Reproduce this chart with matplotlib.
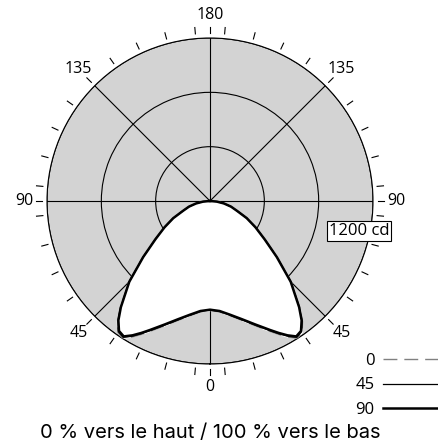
import numpy as np
import matplotlib
matplotlib.use("Agg")
import matplotlib.pyplot as plt

plt.rcParams['font.family'] = ['Open Sans', 'DejaVu Sans']

# Data: luminous intensity (cd) vs angle from nadir (deg), half curve (symmetric)
angles = [0, 5, 10, 15, 20, 25, 27.5, 30, 32.5, 35, 37.5, 40, 45, 50, 55, 60, 65, 70, 75, 80, 85, 90]
c0 =  [805, 820, 858, 910, 978, 1062, 1110, 1158, 1198, 1182, 1120, 1030, 845, 648, 496, 390, 302, 215, 162, 106, 52, 0]
c45 = [802, 816, 854, 905, 972, 1055, 1102, 1150, 1190, 1175, 1114, 1025, 842, 644, 492, 388, 300, 213, 161, 105, 51, 0]
c90 = [800, 813, 850, 900, 966, 1048, 1095, 1142, 1182, 1168, 1108, 1021, 840, 642, 490, 386, 298, 211, 160, 104, 50, 0]
series_labels = ['0', '45', '90']
rings = [400, 800, 1200]
rmax = 1200
angle_labels = [0, 45, 90, 135, 180]
unit_label = '1200 cd'
caption = '0 % vers le haut / 100 % vers le bas'

W, H = 438, 444
fig = plt.figure(figsize=(W / 100, H / 100), dpi=100)
cx, cy, R = 210, 201, 163
ax = fig.add_axes([(cx - R) / W, (H - cy - R) / H, 2 * R / W, 2 * R / H], projection='polar')
ax.set_theta_zero_location('S')
ax.set_facecolor('#d3d3d3')
ax.set_ylim(0, rmax)
ax.set_rgrids(rings, labels=[''] * len(rings))
ax.set_thetagrids(np.arange(0, 360, 45), labels=[''] * 8)
ax.grid(True, color='black', linewidth=0.8)
ax.spines['polar'].set_color('black')
ax.spines['polar'].set_linewidth(0.8)
ax.tick_params(length=0)

def full(a, v):
    a = np.array(a, dtype=float)
    v = np.array(v, dtype=float)
    th = np.concatenate([-a[::-1], a[1:]])
    r = np.concatenate([v[::-1], v[1:]])
    return np.deg2rad(th), r

th, r0 = full(angles, c0)
_, r45 = full(angles, c45)
_, r90 = full(angles, c90)
rfill = np.maximum(np.maximum(r0, r45), r90)
ax.fill(th, rfill, color='white', zorder=2)
ax.plot(th, r0, color='#808080', linestyle=(0, (10, 5)), linewidth=1.0, zorder=3, label=series_labels[0])
ax.plot(th, r45, color='black', linewidth=0.9, zorder=3, label=series_labels[1])
ax.plot(th, r90, color='black', linewidth=1.8, zorder=4, label=series_labels[2])

# outer ticks
tick_angles = sorted(set(list(np.arange(5, 360, 10)) + list(np.arange(0, 360, 45))))
for t in tick_angles:
    ax.plot([np.deg2rad(t)] * 2, [1235, 1282], color='black', linewidth=0.8, clip_on=False, zorder=5)

# angle labels on both sides
for a in angle_labels:
    for sgn in ([1] if a in (0, 180) else [1, -1]):
        ax.text(np.deg2rad(sgn * a), 1370, str(a), ha='center', va='center', fontsize=11.5, clip_on=False)

ax.text(0.957, 0.408, unit_label, transform=ax.transAxes, ha='center', va='center', fontsize=12,
        bbox=dict(boxstyle='square,pad=0.12', facecolor='white', edgecolor='black', linewidth=0.8), zorder=6)

leg = ax.legend(loc='upper right', bbox_to_anchor=(1.0, (H - 353) / H), bbox_transform=fig.transFigure,
                markerfirst=False, frameon=False, fontsize=12, handlelength=3.3, handletextpad=0.5,
                labelspacing=0.5, borderaxespad=0, borderpad=0)

fig.text(cx / W, 11 / H, caption, ha='center', va='center', fontsize=14.5, family=['Inter', 'DejaVu Sans'])

fig.savefig('out.png', dpi=100)
